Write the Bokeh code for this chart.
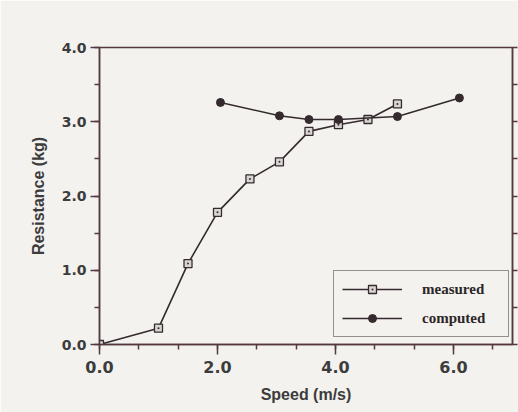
from bokeh.plotting import figure
from bokeh.models import (LinearAxis, Legend, LegendItem, Range1d,
                          SingleIntervalTicker, PrintfTickFormatter)
from bokeh.embed import file_html
from bokeh.resources import INLINE

# ---- data ----
speed_measured = [0.0, 1.0, 1.5, 2.0, 2.55, 3.05, 3.55, 4.05, 4.55, 5.05]
resistance_measured = [0.0, 0.22, 1.09, 1.78, 2.23, 2.46, 2.87, 2.96, 3.03, 3.24]
speed_computed = [2.05, 3.05, 3.55, 4.05, 5.05, 6.1]
resistance_computed = [3.26, 3.08, 3.03, 3.03, 3.07, 3.32]
series_labels = ["measured", "computed"]
x_label = "Speed (m/s)"
y_label = "Resistance (kg)"

BG = "#f3f2ef"
AX = "#553840"
INK = "#352b2f"
TXT = "#3c3c3c"

p = figure(width=518, height=412, output_backend="svg", toolbar_location=None,
           x_range=Range1d(0, 7), y_range=Range1d(0, 4),
           min_border_left=99, min_border_right=6, min_border_top=47,
           min_border_bottom=68,
           background_fill_color=BG, border_fill_color=BG)
p.grid.visible = False
p.outline_line_color = AX
p.outline_line_width = 1.5

# x axis
xa = p.xaxis[0]
xa.ticker = SingleIntervalTicker(interval=2, num_minor_ticks=3)
xa.formatter = PrintfTickFormatter(format="%.1f")
xa.axis_label = x_label
# y axis
ya = p.yaxis[0]
ya.ticker = SingleIntervalTicker(interval=1, num_minor_ticks=2)
ya.formatter = PrintfTickFormatter(format="%.1f")
ya.axis_label = y_label

for ax in (xa, ya):
    ax.axis_line_color = AX
    ax.axis_line_width = 1.5
    ax.major_tick_line_color = AX
    ax.minor_tick_line_color = AX
    ax.major_tick_line_width = 1.5
    ax.minor_tick_line_width = 1.5
    ax.major_tick_in = 0
    ax.minor_tick_in = 0
    ax.major_label_text_font = "DejaVu Sans"
    ax.major_label_text_font_style = "bold"
    ax.major_label_text_color = TXT
    ax.axis_label_text_font = "Liberation Sans"
    ax.axis_label_text_font_style = "bold"
    ax.axis_label_text_font_size = "16px"
    ax.axis_label_text_color = TXT

xa.major_tick_out = 10
xa.minor_tick_out = 5
xa.major_label_text_font_size = "16px"
xa.major_label_standoff = 6
xa.axis_label_standoff = 10

ya.major_tick_out = 9
ya.minor_tick_out = 5
ya.major_label_text_font_size = "14px"
ya.major_label_standoff = 4
ya.axis_label_standoff = 12

# right axis: ticks only, no labels drawn
ra = LinearAxis(ticker=SingleIntervalTicker(interval=0.5, num_minor_ticks=0),
                major_label_text_color=None, major_label_text_font_size="1px",
                major_label_standoff=0,
                axis_line_color=AX, axis_line_width=1.5,
                major_tick_line_color=AX, major_tick_line_width=1.5,
                major_tick_in=0, major_tick_out=5, minor_tick_line_color=None)
p.add_layout(ra, "right")

# series
l1 = p.line(speed_measured, resistance_measured, line_color=INK, line_width=1.6)
s1 = p.scatter(speed_measured, resistance_measured, marker="square_dot", size=8,
               fill_color="#d9d5d2", line_color=INK, line_width=1.3)
l2 = p.line(speed_computed, resistance_computed, line_color=INK, line_width=1.6)
s2 = p.scatter(speed_computed, resistance_computed, marker="circle", size=8,
               fill_color=INK, line_color=INK)

legend = Legend(items=[LegendItem(label=series_labels[0], renderers=[l1, s1]),
                       LegendItem(label=series_labels[1], renderers=[l2, s2])],
                location=(234, 7), glyph_width=60, glyph_height=20,
                label_standoff=20, padding=8, spacing=9, margin=0,
                label_width=78, label_height=20,
                label_text_font="Liberation Serif", label_text_font_style="bold",
                label_text_font_size="15px", label_text_color="#2c2628",
                border_line_color=INK, border_line_width=1.5,
                background_fill_color=BG, background_fill_alpha=1.0)
p.add_layout(legend, "center")

open("out.html", "w").write(file_html(p, INLINE))
